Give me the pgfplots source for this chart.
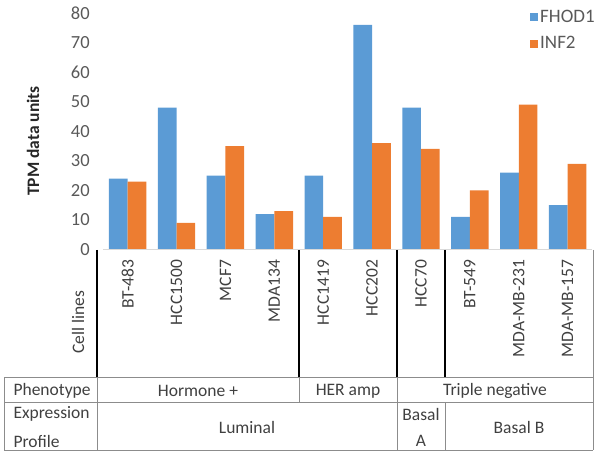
\documentclass[border=0pt]{standalone}
\usepackage{pgfplots}
\pgfplotsset{compat=1.18}
\usepackage{fontspec}
\setmainfont{Carlito}
\definecolor{cblue}{HTML}{5B9BD5}
\definecolor{corange}{HTML}{ED7D31}
\definecolor{tickgray}{HTML}{595959}
\definecolor{txt}{HTML}{404040}
\definecolor{tline}{HTML}{8C8C8C}
\newcommand{\fs}{\fontsize{17.5}{21}\selectfont}
\begin{document}
\begin{tikzpicture}
\path[use as bounding box] (0pt,0pt) rectangle (600pt,-457pt);
\begin{axis}[
  at={(103.2pt,-249.5pt)}, anchor=south west,
  scale only axis, width=488.9pt, height=236.5pt,
  xmin=-0.5, xmax=9.5, ymin=0, ymax=80,
  axis line style={draw=none},
  major tick length=0pt,
  ytick={0,10,...,80},
  xtick=data,
  xticklabels={BT-483,HCC1500,MCF7,MDA134,HCC1419,HCC202,HCC70,BT-549,MDA-MB-231,MDA-MB-157},
  xticklabel style={rotate=90, anchor=east, font=\fs, text=txt},
  xticklabel shift=7pt,
  yticklabel style={font=\fontsize{18.5}{22}\selectfont, text=tickgray},
  yticklabel shift=10pt,
  /pgf/number format/assume math mode=true,
  ybar=0pt, bar width=18.7pt,
  clip=false,
  legend style={at={(0.873,1.023)}, anchor=north west, draw=none, fill=none,
    font=\fontsize{19}{23}\selectfont, text=tickgray, row sep=9pt, inner sep=0pt, cells={anchor=west}},
  legend image code/.code={\fill[#1] (0pt,-4pt) rectangle (8pt,4pt);},
]
\addplot[fill=cblue, draw=none] coordinates {(0,24) (1,48) (2,25) (3,12) (4,25) (5,76) (6,48) (7,11) (8,26) (9,15)};
\addplot[fill=corange, draw=none] coordinates {(0,23) (1,9) (2,35) (3,13) (4,11) (5,36) (6,34) (7,20) (8,49) (9,29)};
\legend{FHOD1,INF2}
\draw[color=black!15, line width=0.8pt] (rel axis cs:0,0) -- (rel axis cs:1,0);
\end{axis}
% y label
\node[rotate=90, font=\fs\bfseries, text=black!85] at (33pt,-141pt) {TPM data units};
% cell lines label
\node[rotate=90, font=\fs, text=txt] at (78pt,-322pt) {Cell lines};
% black vertical separators
\foreach \xx in {97,299,397,445} {\draw[black, line width=1.3pt] (\xx pt,-250pt) -- (\xx pt,-377pt);}
\draw[tline, line width=1pt] (593pt,-250pt) -- (593pt,-377pt);
% table lines
\draw[tline, line width=1pt] (4pt,-377pt) -- (593pt,-377pt);
\draw[tline, line width=1pt] (4pt,-402pt) -- (593pt,-402pt);
\draw[tline, line width=1pt] (4pt,-450pt) -- (593pt,-450pt);
\draw[tline, line width=1pt] (4pt,-377pt) -- (4pt,-450pt);
\draw[tline, line width=1pt] (97pt,-377pt) -- (97pt,-450pt);
\draw[tline, line width=1pt] (299pt,-377pt) -- (299pt,-402pt);
\draw[tline, line width=1pt] (397pt,-377pt) -- (397pt,-450pt);
\draw[tline, line width=1pt] (445pt,-402pt) -- (445pt,-450pt);
\draw[tline, line width=1pt] (593pt,-377pt) -- (593pt,-450pt);
% table text
\node[font=\fs, text=txt, anchor=west] at (10pt,-391pt) {Phenotype};
\node[font=\fs, text=txt] at (198pt,-391pt) {Hormone +};
\node[font=\fs, text=txt] at (348pt,-391pt) {HER amp};
\node[font=\fs, text=txt] at (495pt,-391pt) {Triple negative};
\node[font=\fs, text=txt, anchor=west] at (10pt,-414pt) {Expression};
\node[font=\fs, text=txt, anchor=west] at (10pt,-441pt) {Profile};
\node[font=\fs, text=txt] at (247pt,-427pt) {Luminal};
\node[font=\fs, text=txt] at (421pt,-414pt) {Basal};
\node[font=\fs, text=txt] at (421pt,-441pt) {A};
\node[font=\fs, text=txt] at (519pt,-427pt) {Basal B};
\end{tikzpicture}
\end{document}
